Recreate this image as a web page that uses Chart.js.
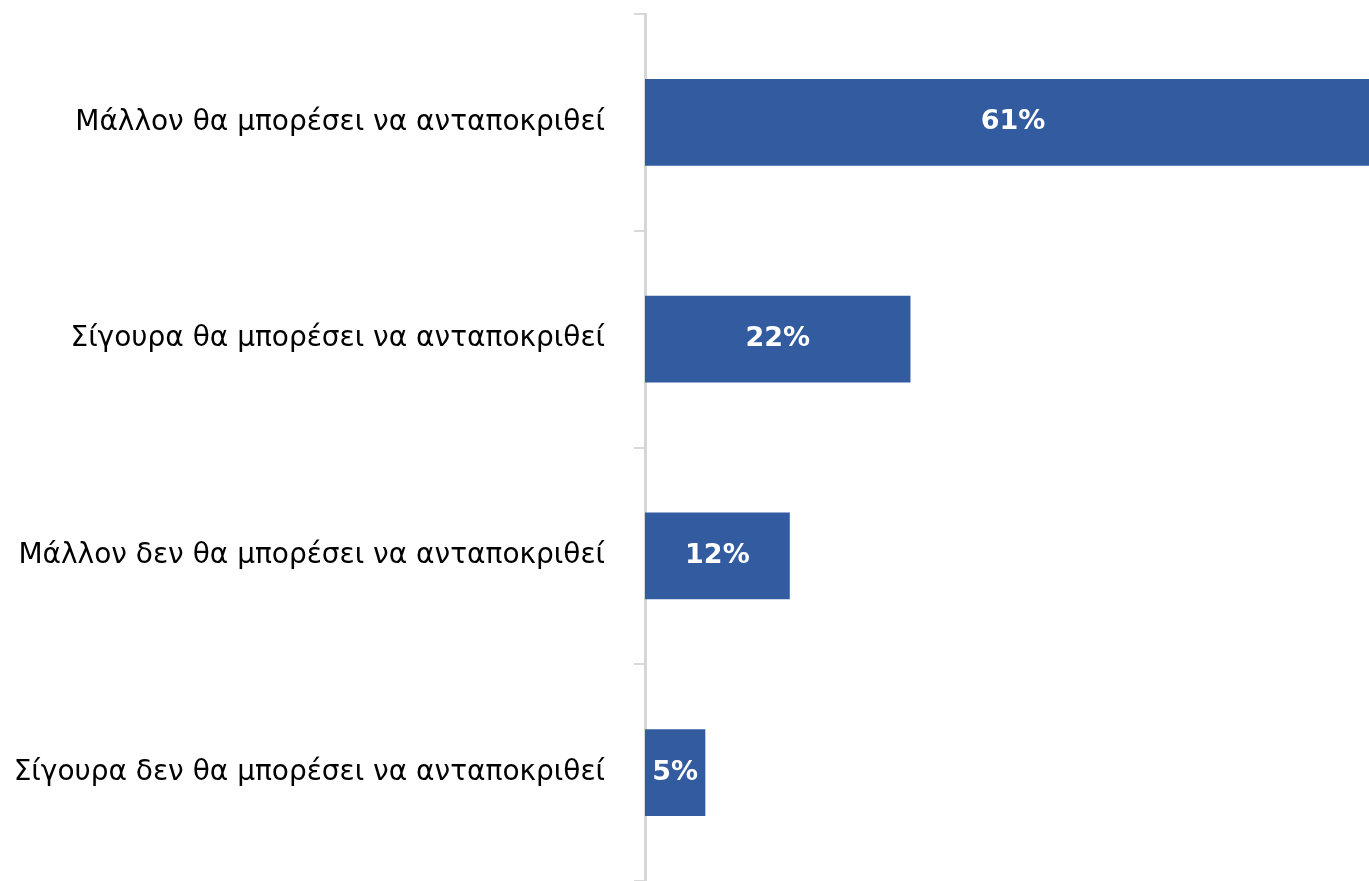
<!DOCTYPE html>
<html>
<head>
<meta charset="utf-8">
<script src="https://cdn.jsdelivr.net/npm/chart.js@4/dist/chart.umd.min.js"></script>
<style>
  html, body { margin: 0; padding: 0; background: #fff; }
  #wrap { width: 1369px; height: 881px; }
</style>
</head>
<body>
<div id="wrap"><canvas id="c"></canvas></div>
<script>
// answers and shares (%)
const categories = [
  'Μάλλον θα μπορέσει να ανταποκριθεί',
  'Σίγουρα θα μπορέσει να ανταποκριθεί',
  'Μάλλον δεν θα μπορέσει να ανταποκριθεί',
  'Σίγουρα δεν θα μπορέσει να ανταποκριθεί'
];
const shares = [61, 22, 12, 5];
const xMax = 60;

const FONT = '"DejaVu Sans", Tahoma, sans-serif';

// white bold value in the middle of each bar
const barValues = {
  id: 'barValues',
  afterDatasetsDraw(chart) {
    const ctx = chart.ctx;
    const meta = chart.getDatasetMeta(0);
    ctx.save();
    ctx.fillStyle = '#fff';
    ctx.font = 'bold 27px ' + FONT;
    ctx.textAlign = 'center';
    ctx.textBaseline = 'middle';
    meta.data.forEach((bar, i) => {
      const cx = (bar.x + bar.base) / 2;
      ctx.fillText(shares[i] + '%', cx, bar.y);
    });
    ctx.restore();
  }
};

new Chart(document.getElementById('c'), {
  type: 'bar',
  data: {
    labels: categories,
    datasets: [{
      data: shares,
      backgroundColor: '#335b9f',
      borderWidth: 0,
      barPercentage: 0.4,
      categoryPercentage: 1
    }]
  },
  options: {
    indexAxis: 'y',
    responsive: true,
    maintainAspectRatio: false,
    animation: false,
    layout: { autoPadding: false, padding: { top: 14, right: 0, bottom: 0, left: 0 } },
    plugins: {
      legend: { display: false },
      tooltip: { enabled: false }
    },
    scales: {
      x: { display: false, min: 0, max: xMax },
      y: {
        afterFit: s => {
          s.width = 645;
          s.paddingTop = 0;
          s.paddingBottom = 0;
        },
        border: { color: '#d6d6d6', width: 3 },
        grid: {
          drawOnChartArea: false,
          color: '#d9d9d9',
          lineWidth: 2,
          tickLength: 11
        },
        ticks: {
          color: '#000',
          padding: 29,
          font: { family: FONT, size: 28 }
        }
      }
    }
  },
  plugins: [barValues]
});
</script>
</body>
</html>
